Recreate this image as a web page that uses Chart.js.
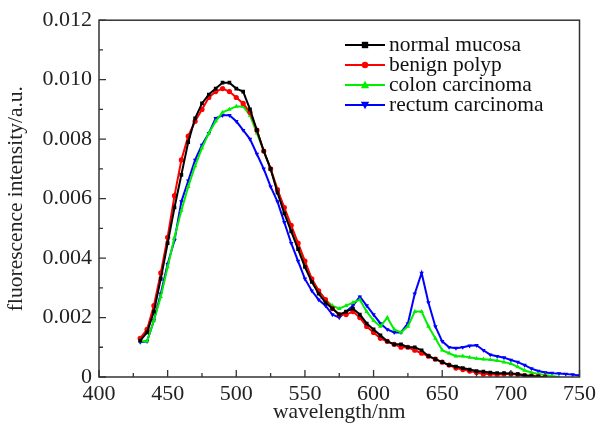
<!DOCTYPE html>
<html>
<head>
<meta charset="utf-8">
<script src="https://cdn.jsdelivr.net/npm/chart.js@4.4.0/dist/chart.umd.min.js"></script>
<style>
  html, body { margin: 0; padding: 0; background: #fff; }
  #wrap { width: 600px; height: 427px; }
</style>
</head>
<body>
<div id="wrap"><canvas id="c"></canvas></div>
<script>
// wavelength grid (nm)
const wavelengths = [];
for (let w = 430; w <= 750; w += 5) wavelengths.push(w);

const seriesNames = ['normal mucosa', 'benign polyp', 'colon carcinoma', 'rectum carcinoma'];

const normalMucosa = [
  0.00122, 0.0015, 0.0022, 0.0033, 0.0045, 0.0057, 0.0068, 0.0079, 0.0087, 0.0092,
  0.0095, 0.0097, 0.0099, 0.0099, 0.0097, 0.0096, 0.0090, 0.0083, 0.0076, 0.0070,
  0.0062, 0.0055, 0.0049, 0.0043, 0.0037, 0.0032, 0.0028, 0.0025, 0.0023, 0.0021,
  0.0022, 0.0023, 0.0021, 0.0018, 0.0016, 0.0014, 0.0012, 0.0011, 0.0011, 0.0010,
  0.0010, 0.0009, 0.0007, 0.0006, 0.0005, 0.0004, 0.00035, 0.0003, 0.00025, 0.0002,
  0.00018, 0.00015, 0.00013, 0.00013, 0.00012, 0.0001, 0.00006, 0.00003, 0.00001, 0.0,
  null, null, null, null, null
];
const benignPolyp = [
  0.0013, 0.0016, 0.0024, 0.0035, 0.0047, 0.0061, 0.0073, 0.0081, 0.0086, 0.0090,
  0.0094, 0.0096, 0.0097, 0.0096, 0.0094, 0.0092, 0.0089, 0.0083, 0.0076, 0.0070,
  0.0063, 0.0057, 0.0051, 0.0045, 0.0039, 0.0033, 0.0029, 0.0026, 0.0023, 0.0021,
  0.0021, 0.0022, 0.0020, 0.0017, 0.0015, 0.0013, 0.0012, 0.0011, 0.0010, 0.0010,
  0.0009, 0.0008, 0.0007, 0.0006, 0.0005, 0.0004, 0.0003, 0.00025, 0.0002, 0.00015,
  0.0001, 0.0001, 0.00008, 0.0001, 0.0001, 0.00008, 0.00005, 0.00003, 0.00001, 0.0,
  null, null, null, null, null
];
const colonCarcinoma = [
  0.0012, 0.0012, 0.0019, 0.0027, 0.0037, 0.0047, 0.0056, 0.0064, 0.0071, 0.0077,
  0.0082, 0.0086, 0.0089, 0.0090, 0.0091, 0.0091, 0.0088, 0.0082, 0.0076, 0.0070,
  0.0063, 0.0056, 0.0050, 0.0044, 0.0038, 0.0033, 0.0029, 0.0026, 0.0024, 0.0023,
  0.0024, 0.0025, 0.0026, 0.0022, 0.0019, 0.0017, 0.0020, 0.0016, 0.0015, 0.0017,
  0.0022, 0.0022, 0.0017, 0.0013, 0.0009, 0.0008, 0.0007, 0.0007, 0.00066, 0.00062,
  0.0006, 0.00058, 0.00055, 0.0005, 0.00045, 0.00034, 0.00022, 0.00015, 0.0001, 0.00007,
  0.00003, 0.0, null, null, null
];
const rectumCarcinoma = [
  0.00117, 0.0012, 0.0019, 0.0028, 0.0038, 0.0046, 0.0059, 0.0066, 0.0073, 0.0078,
  0.0082, 0.0087, 0.0088, 0.0088, 0.0086, 0.0083, 0.0080, 0.0075, 0.0070, 0.0064,
  0.0059, 0.0052, 0.0045, 0.0039, 0.0033, 0.0029, 0.0026, 0.0024, 0.0021, 0.0020,
  0.0022, 0.0024, 0.0027, 0.0024, 0.0021, 0.0018, 0.0016, 0.0015, 0.0015, 0.0018,
  0.0028, 0.0035, 0.0025, 0.0017, 0.0012, 0.0010, 0.00097, 0.0010, 0.00105, 0.00107,
  0.0009, 0.00075, 0.0007, 0.00065, 0.00057, 0.0005, 0.0004, 0.00028, 0.0002, 0.00015,
  0.00013, 0.00012, 0.0001, 0.00008, 0.00005
];

const xTicks = [400, 450, 500, 550, 600, 650, 700, 750];
const yTicks = [0, 0.002, 0.004, 0.006, 0.008, 0.010, 0.012];

const colors = ['#000000', '#ff0000', '#00ee00', '#0000ff'];
const styles = ['rect', 'circle', 'triangle', 'triangle'];
const rotations = [0, 0, 0, 180];
const allSeries = [normalMucosa, benignPolyp, colonCarcinoma, rectumCarcinoma];

const serif = "'Liberation Serif', 'DejaVu Serif', serif";

function toPoints(vals) {
  return wavelengths.map((w, i) => ({ x: w, y: vals[i] }));
}

// frame, inward ticks and legend inside the plot
const framePlugin = {
  id: 'frame',
  afterDraw(chart) {
    const { ctx, chartArea: a, scales: { x, y } } = chart;
    ctx.save();
    ctx.strokeStyle = '#333';
    ctx.lineWidth = 1.5;
    ctx.strokeRect(a.left, a.top, a.right - a.left, a.bottom - a.top);

    ctx.lineWidth = 1.3;
    ctx.beginPath();
    for (let w = 400; w <= 750; w += 25) {
      const px = x.getPixelForValue(w);
      const len = (w % 50 === 0) ? 7 : 4;
      ctx.moveTo(px, a.bottom);
      ctx.lineTo(px, a.bottom - len);
    }
    for (let k = 0; k <= 12; k++) {
      const py = y.getPixelForValue(k * 0.001);
      const len = (k % 2 === 0) ? 7 : 4;
      ctx.moveTo(a.left, py);
      ctx.lineTo(a.left + len, py);
    }
    ctx.stroke();

    // legend
    ctx.font = '21.5px ' + serif;
    ctx.textBaseline = 'middle';
    chart.data.datasets.forEach((ds, i) => {
      const ly = 45 + i * 20;
      ctx.strokeStyle = ds.borderColor;
      ctx.lineWidth = 2;
      ctx.beginPath();
      ctx.moveTo(345, ly);
      ctx.lineTo(385, ly);
      ctx.stroke();
      ctx.fillStyle = ds.borderColor;
      ctx.beginPath();
      const cx = 365, r = 3.2;
      if (i === 0) {
        ctx.rect(cx - r, ly - r, 2 * r, 2 * r);
      } else if (i === 1) {
        ctx.arc(cx, ly, r, 0, Math.PI * 2);
      } else if (i === 2) {
        ctx.moveTo(cx, ly - r - 1); ctx.lineTo(cx + r + 1, ly + r); ctx.lineTo(cx - r - 1, ly + r);
      } else {
        ctx.moveTo(cx, ly + r + 1); ctx.lineTo(cx + r + 1, ly - r); ctx.lineTo(cx - r - 1, ly - r);
      }
      ctx.fill();
      ctx.fillStyle = '#111';
      ctx.fillText(ds.label, 389, ly);
    });
    ctx.restore();
  }
};

new Chart(document.getElementById('c'), {
  type: 'line',
  data: {
    datasets: allSeries.map((vals, i) => ({
      label: seriesNames[i],
      data: toPoints(vals),
      borderColor: colors[i],
      backgroundColor: colors[i],
      borderWidth: 2,
      pointStyle: styles[i],
      rotation: rotations[i],
      pointRadius: 2.6,
      pointBorderWidth: 0,
      tension: 0,
      spanGaps: false
    }))
  },
  options: {
    responsive: true,
    maintainAspectRatio: false,
    animation: false,
    layout: { padding: { left: 0, right: 18, top: 19, bottom: 0 } },
    plugins: {
      legend: { display: false },
      tooltip: { enabled: false }
    },
    scales: {
      x: {
        type: 'linear',
        min: 400,
        max: 750,
        afterFit(s) { s.height = 50; },
        afterBuildTicks(s) { s.ticks = xTicks.map(v => ({ value: v })); },
        grid: { display: false, drawTicks: false },
        border: { display: false },
        ticks: { padding: 4, color: '#222', font: { family: serif, size: 22 }, maxRotation: 0 },
        title: { display: true, text: 'wavelength/nm', color: '#222', font: { family: serif, size: 21.5 }, padding: { top: 0, bottom: 2 } }
      },
      y: {
        min: 0,
        max: 0.012,
        afterFit(s) { s.width = 99; },
        afterBuildTicks(s) { s.ticks = yTicks.map(v => ({ value: v })); },
        grid: { display: false, drawTicks: false },
        border: { display: false },
        ticks: {
          padding: 7,
          color: '#222',
          font: { family: serif, size: 22 },
          callback: v => (v === 0 ? '0' : v.toFixed(3))
        },
        title: { display: true, text: 'fluorescence intensity/a.u.', color: '#222', font: { family: serif, size: 21.5 }, padding: { top: 3, bottom: 0 } }
      }
    }
  },
  plugins: [framePlugin]
});
</script>
</body>
</html>
